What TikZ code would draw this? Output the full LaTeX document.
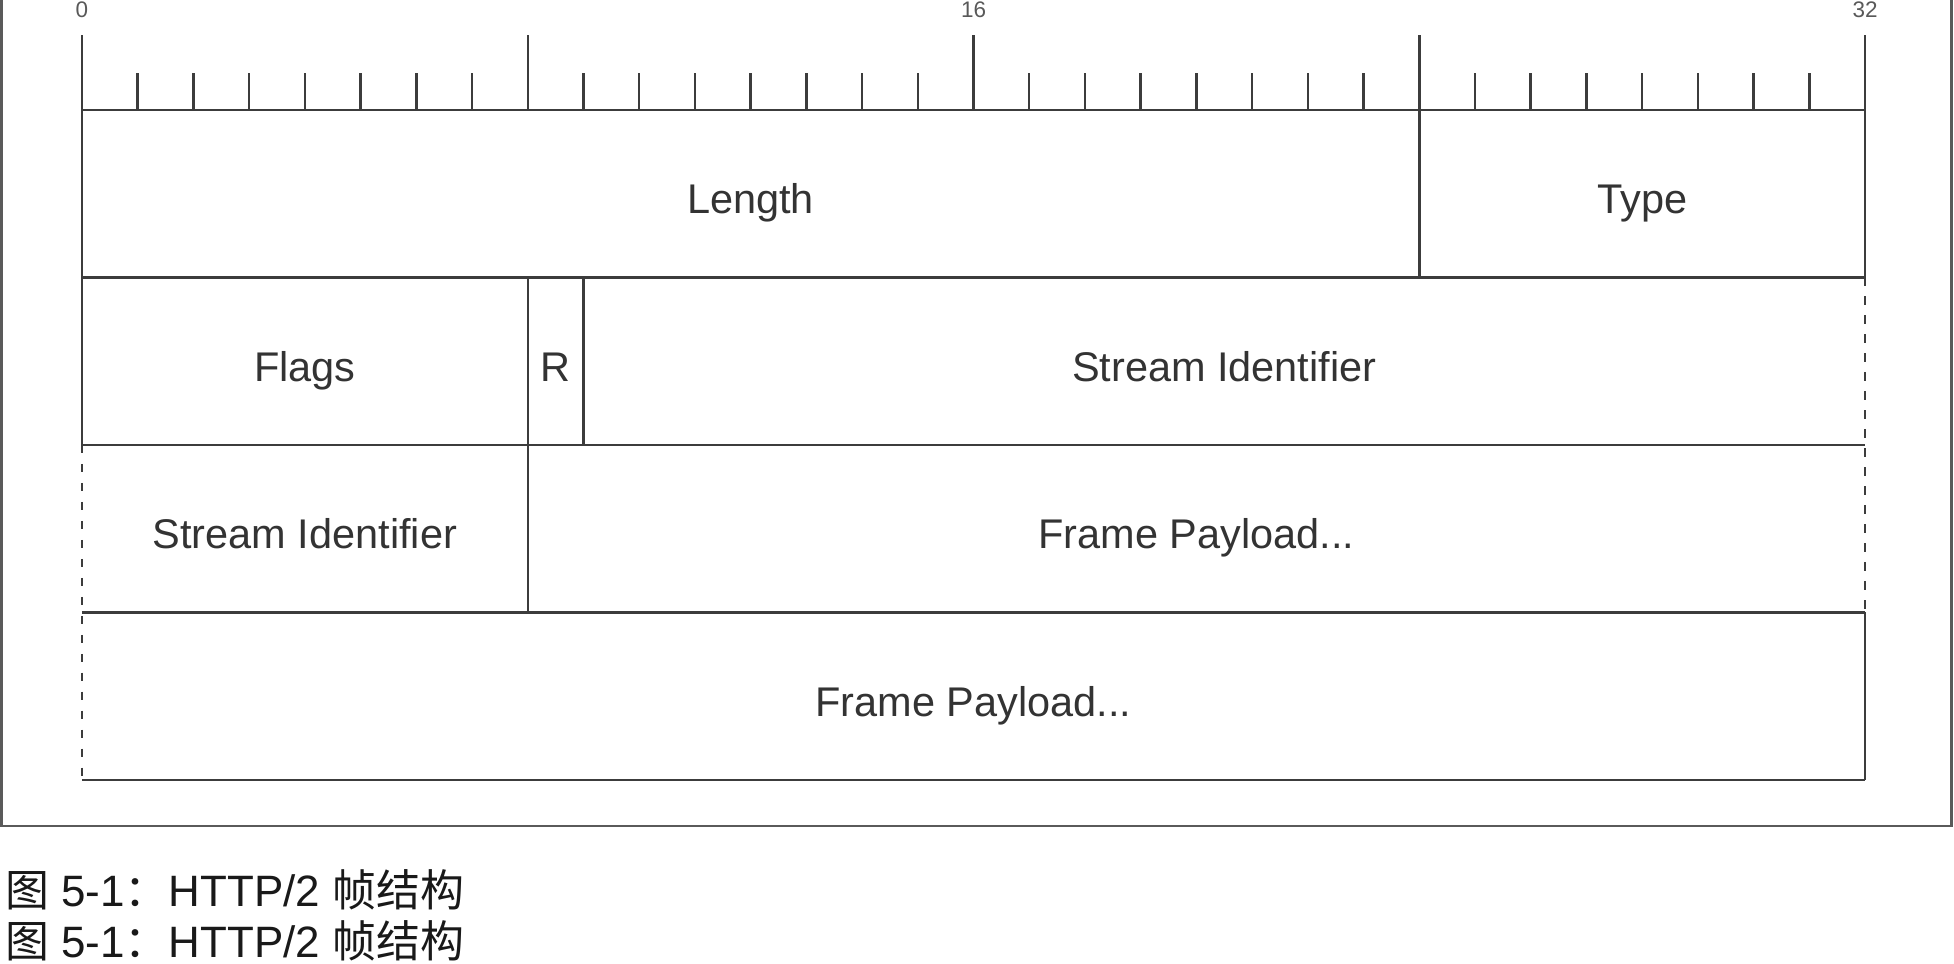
\documentclass[tikz,border=0pt]{standalone}
\usepackage{fontspec}
\setmainfont{Liberation Sans}
\newfontfamily\cjk{Noto Sans CJK SC}

\definecolor{linegray}{HTML}{3C3C3C}
\definecolor{textgray}{HTML}{333333}
\definecolor{framegray}{HTML}{5A5A5A}

\tikzset{
  field/.style={font=\fontsize{11.8}{14}\selectfont, text=textgray,
    text height=0.9em, text depth=0.18em, inner sep=0pt, yshift=-0.075cm},
  bitnum/.style={font=\fontsize{6.4}{7}\selectfont, text=black!65, inner sep=0pt},
  cut/.style={dash pattern=on 2.4pt off 3pt, line width=0.8pt},
  caption/.style={font=\fontsize{12.5}{14}\selectfont, text=black!90,
    inner sep=0pt, anchor=base west},
}

\begin{document}
\begin{tikzpicture}[x=0.5572cm, y=1.675cm, line width=0.7pt, color=linegray]
        \useasboundingbox (-1.4716,-5.0985) rectangle (33.597,0.6567);

        % outer frame, its top edge is cut off
        \draw[framegray, line width=0.8pt] (-1.445,0.7) -- (-1.445,-4.275)
            -- (33.551,-4.275) -- (33.551,0.7);

        % bit ruler
        \foreach \b in {0,...,32}
            \draw (\b,0) -- (\b,0.218);
        \foreach \b in {0,8,16,24,32}
            \draw (\b,0) -- (\b,0.448);
        \foreach \b in {0,16,32}
            \node[bitnum] (bit\b) at (\b,0.6) {\b};

        % rows
        \foreach \r in {0,...,4}
            \draw (0,-\r) -- (32,-\r);

        \draw (0,0) -- (0,-2);
        \draw[cut] (0,-2) -- (0,-4);
        \draw (32,0) -- (32,-1);
        \draw[cut] (32,-1) -- (32,-3);
        \draw (32,-3) -- (32,-4);

        \draw (24,0) -- (24,-1);
        \draw (8,-1) -- (8,-3);
        \draw (9,-1) -- (9,-2);

        \node[field] (length) at (12,-0.5) {Length};
        \node[field] (type) at (28,-0.5) {Type};

        \node[field] (flags) at (4,-1.5) {Flags};
        \node[field] (rbit) at (8.5,-1.5) {R};
        \node[field] (streamA) at (20.5,-1.5) {Stream Identifier};

        \node[field] (streamB) at (4,-2.5) {Stream Identifier};
        \node[field] (payloadA) at (20,-2.5) {Frame Payload...};

        \node[field] (payloadB) at (16,-3.5) {Frame Payload...};

        % caption (printed twice in the source)
        \node[caption] (captionA) at (-1.40,-4.758) {{\cjk 图} 5-1{\cjk ：}HTTP/2 {\cjk 帧结构}};
        \node[caption] (captionB) at (-1.40,-5.057) {{\cjk 图} 5-1{\cjk ：}HTTP/2 {\cjk 帧结构}};

\end{tikzpicture}
\end{document}
